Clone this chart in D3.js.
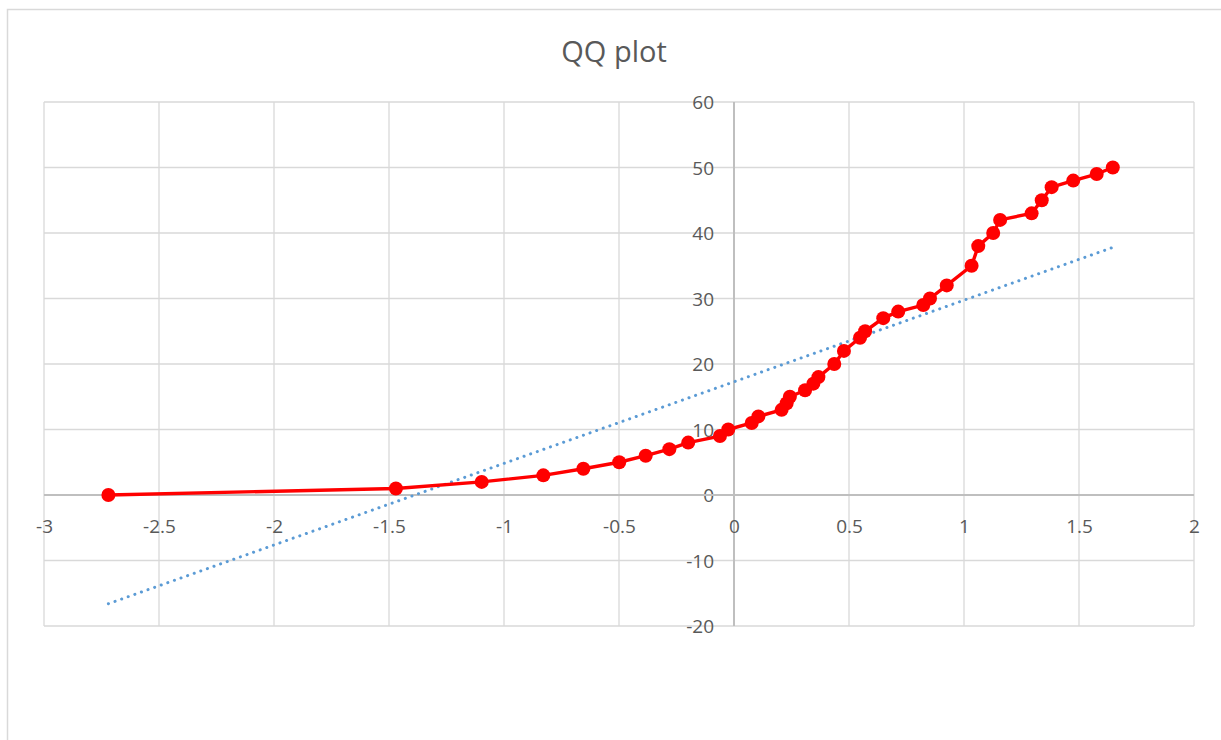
<!DOCTYPE html>
<html>
<head>
<meta charset="utf-8">
<script src="https://cdn.jsdelivr.net/npm/d3@7"></script>
<style>
  html, body { margin: 0; padding: 0; background: #ffffff; }
  svg { display: block; }
  text { font-family: "Open Sans", "Liberation Sans", sans-serif; fill: #595959; }
</style>
</head>
<body>
<svg id="chart" width="1221" height="740"></svg>
<script>
// Theoretical normal quantiles (x) and sorted sample values (y)
const quantiles = [-2.72, -1.47, -1.097, -0.829, -0.655, -0.499, -0.384, -0.281, -0.199, -0.061,
  -0.025, 0.077, 0.106, 0.207, 0.229, 0.243, 0.309, 0.345, 0.367, 0.436,
  0.478, 0.548, 0.57, 0.649, 0.714, 0.823, 0.852, 0.925, 1.033, 1.062,
  1.127, 1.157, 1.294, 1.338, 1.381, 1.475, 1.577, 1.647];
const sampleValues = [0, 1, 2, 3, 4, 5, 6, 7, 8, 9,
  10, 11, 12, 13, 14, 15, 16, 17, 18, 20,
  22, 24, 25, 27, 28, 29, 30, 32, 35, 38,
  40, 42, 43, 45, 47, 48, 49, 50];
// Reference line endpoints (normal fit)
const refLineX = [-2.72, 1.647];
const refLineY = [-16.6, 37.8];
const xTicks = [-3, -2.5, -2, -1.5, -1, -0.5, 0, 0.5, 1, 1.5, 2];
const yTicks = [-20, -10, 0, 10, 20, 30, 40, 50, 60];
const chartTitle = "QQ plot";

const points = quantiles.map((q, i) => ({ x: q, y: sampleValues[i] }));
const refLine = refLineX.map((v, i) => ({ x: v, y: refLineY[i] }));

const svg = d3.select("#chart");

// chart frame
svg.append("rect")
  .attr("x", 7.5).attr("y", 9.5)
  .attr("width", 1300).attr("height", 800)
  .attr("fill", "none").attr("stroke", "#d9d9d9").attr("stroke-width", 1.5);

const x = d3.scaleLinear().domain([-3, 2]).range([44, 1194]);
const y = d3.scaleLinear().domain([-20, 60]).range([626, 102]);

// gridlines
const grid = svg.append("g");
grid.selectAll("line.v").data(xTicks).join("line")
  .attr("x1", d => x(d)).attr("x2", d => x(d))
  .attr("y1", y(60)).attr("y2", y(-20))
  .attr("stroke", "#d9d9d9").attr("stroke-width", 1.3);
grid.selectAll("line.h").data(yTicks).join("line")
  .attr("x1", x(-3)).attr("x2", x(2))
  .attr("y1", d => y(d)).attr("y2", d => y(d))
  .attr("stroke", "#d9d9d9").attr("stroke-width", 1.3);

// axes crossing at the origin
const yAxis = d3.axisLeft(y).tickValues(yTicks).tickSize(0).tickPadding(20)
  .tickFormat(d => String(d));
const xAxis = d3.axisBottom(x).tickValues(xTicks).tickSize(0)
  .tickFormat(d => String(d));

const gy = svg.append("g").attr("transform", `translate(${x(0)},0)`).call(yAxis);
const gx = svg.append("g").attr("transform", `translate(0,${y(0)})`).call(xAxis);
[gx, gy].forEach(g => {
  g.select(".domain").attr("stroke", "#bfbfbf").attr("stroke-width", 2);
  g.selectAll("text").attr("font-size", 19).attr("fill", "#595959")
    .style("font-family", '"Open Sans", "Liberation Sans", sans-serif');
});
gy.selectAll("text").attr("dy", "0.35em");
gx.selectAll("text").attr("dy", "0.35em").attr("y", 31);
gy.select(".domain").attr("d", `M0,${y(60)}V${y(-20)}`);
gx.select(".domain").attr("d", `M${x(-3)},0H${x(2)}`);

// normal reference line
svg.append("path")
  .datum(refLine)
  .attr("d", d3.line().x(d => x(d.x)).y(d => y(d.y)))
  .attr("fill", "none")
  .attr("stroke", "#5b9bd5")
  .attr("stroke-width", 3)
  .attr("stroke-linecap", "round")
  .attr("stroke-dasharray", "0.1,6.9");

// sample series
svg.append("path")
  .datum(points)
  .attr("d", d3.line().x(d => x(d.x)).y(d => y(d.y)))
  .attr("fill", "none")
  .attr("stroke", "#ff0000")
  .attr("stroke-width", 3.4)
  .attr("stroke-linejoin", "round");

svg.append("g").selectAll("circle").data(points).join("circle")
  .attr("cx", d => x(d.x)).attr("cy", d => y(d.y))
  .attr("r", 7)
  .attr("fill", "#ff0000");

// title
svg.append("text")
  .attr("x", 614).attr("y", 62)
  .attr("text-anchor", "middle")
  .attr("font-size", 29)
  .attr("fill", "#595959")
  .text(chartTitle);
</script>
</body>
</html>
